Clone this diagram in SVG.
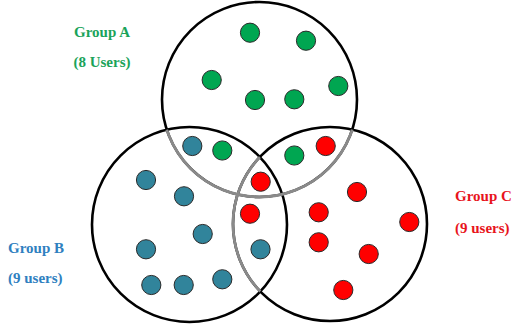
<svg xmlns="http://www.w3.org/2000/svg" width="512" height="331" viewBox="0 0 512 331">
<style>
.ring{fill:none;stroke:#000;stroke-width:2.6}
.gray{fill:none;stroke:#8a8a8a;stroke-width:2.8}
.dot{stroke:#2a2a2a;stroke-width:1}
.g{fill:#00a651}
.b{fill:#31849b}
.r{fill:#ff0000}
.lbl{font-family:"Liberation Serif","Times New Roman",serif;font-weight:bold;font-size:15px}
</style>
<defs>
<clipPath id="inBC"><circle cx="189.5" cy="224.5" r="97.5"/><circle cx="330" cy="224" r="97"/></clipPath>
<clipPath id="inB"><circle cx="189.5" cy="224.5" r="97.5"/></clipPath>
</defs>
<rect width="512" height="331" fill="#fff"/>
<g id="groupA">
<circle class="ring" cx="259.5" cy="99.5" r="97.5"/>
<text class="lbl" x="102" y="37" text-anchor="middle" fill="#1aa35a">Group A</text>
<text class="lbl" x="102" y="67" text-anchor="middle" fill="#1aa35a">(8 Users)</text>
</g>
<g id="groupB">
<circle class="ring" cx="189.5" cy="224.5" r="97.5"/>
<text class="lbl" x="8" y="253" fill="#2f80c0">Group B</text>
<text class="lbl" x="8" y="283" fill="#2f80c0">(9 users)</text>
</g>
<g id="groupC">
<circle class="ring" cx="330" cy="224" r="97"/>
<text class="lbl" x="455" y="201" fill="#e8141c">Group C</text>
<text class="lbl" x="455" y="233" fill="#e8141c">(9 users)</text>
</g>
<g id="overlaps">
<circle class="gray" cx="259.5" cy="99.5" r="97.5" clip-path="url(#inBC)"/>
<circle class="gray" cx="330" cy="224" r="97" clip-path="url(#inB)"/>
</g>
<g id="users">
<circle class="dot g" cx="250" cy="32.7" r="9.6"/>
<circle class="dot g" cx="306" cy="40.7" r="9.6"/>
<circle class="dot g" cx="211.7" cy="80" r="9.6"/>
<circle class="dot g" cx="338.3" cy="86" r="9.6"/>
<circle class="dot g" cx="255" cy="100" r="9.6"/>
<circle class="dot g" cx="294.3" cy="99.3" r="9.6"/>
<circle class="dot b" cx="192.3" cy="146" r="9.6"/>
<circle class="dot g" cx="222.3" cy="150.5" r="9.6"/>
<circle class="dot g" cx="294.3" cy="155.5" r="9.6"/>
<circle class="dot r" cx="325.7" cy="146" r="9.6"/>
<circle class="dot b" cx="146" cy="180" r="9.6"/>
<circle class="dot b" cx="184" cy="196.3" r="9.6"/>
<circle class="dot r" cx="260.7" cy="181.7" r="9.6"/>
<circle class="dot r" cx="250" cy="213.7" r="9.6"/>
<circle class="dot b" cx="202.7" cy="234" r="9.6"/>
<circle class="dot b" cx="146" cy="249.3" r="9.6"/>
<circle class="dot b" cx="260.5" cy="249.3" r="9.6"/>
<circle class="dot b" cx="151.3" cy="285" r="9.6"/>
<circle class="dot b" cx="183.7" cy="285" r="9.6"/>
<circle class="dot b" cx="222.3" cy="279.3" r="9.6"/>
<circle class="dot r" cx="357" cy="192" r="9.6"/>
<circle class="dot r" cx="318.7" cy="212.3" r="9.6"/>
<circle class="dot r" cx="409.3" cy="222" r="9.6"/>
<circle class="dot r" cx="318.7" cy="242.3" r="9.6"/>
<circle class="dot r" cx="368.7" cy="254" r="9.6"/>
<circle class="dot r" cx="343.3" cy="290" r="9.6"/>
</g>
</svg>
